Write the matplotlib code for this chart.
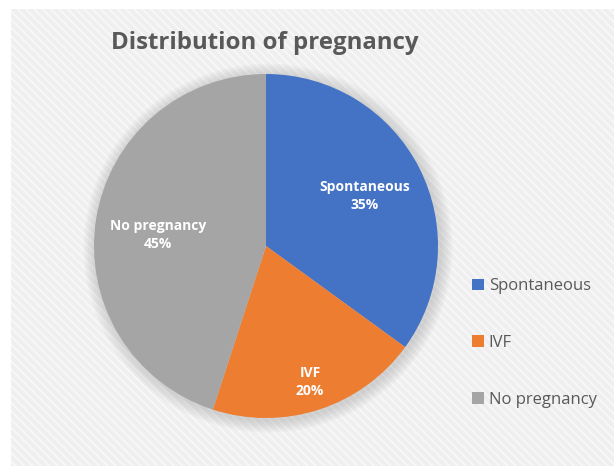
import matplotlib
matplotlib.use("Agg")
import matplotlib.pyplot as plt
from matplotlib.patches import Rectangle, Circle
import numpy as np

categories = ["Spontaneous", "IVF", "No pregnancy"]
shares = [35, 20, 45]
colors = ["#4472C4", "#ED7D31", "#A5A5A5"]
# label placement as (angle in degrees, radius fraction)
label_pos = [(27, 0.645), (-72, 0.83), (174, 0.63)]

plt.rcParams["font.family"] = ["Open Sans", "DejaVu Sans"]
plt.rcParams["hatch.linewidth"] = 1.2

fig = plt.figure(figsize=(6.14, 4.74), dpi=100)
fig.patch.set_facecolor("white")

# chart area background with light diagonal stripes
bg = Rectangle((11 / 614, 8 / 474), 1 - 11 / 614, 1 - 17 / 474,
               transform=fig.transFigure, facecolor="#efefef",
               edgecolor="#f9f9f9", hatch="\\\\\\\\", linewidth=0, zorder=-1)
fig.patches.append(bg)

ax = fig.add_axes([94 / 614, 56 / 474, 344 / 614, 344 / 474], zorder=2)
ax.patch.set_visible(False)

# soft shadow under the pie
for k in range(6):
    ax.add_patch(Circle((0.012, -0.012), 1.0 + 0.012 * (k + 1),
                        facecolor="#808080", alpha=0.05, linewidth=0,
                        zorder=0, clip_on=False))

wedges, _ = ax.pie(shares, colors=colors, startangle=90, counterclock=False,
                   radius=1.0, wedgeprops=dict(linewidth=0, zorder=1))
ax.set_xlim(-1, 1)
ax.set_ylim(-1, 1)
ax.set_aspect("equal")
ax.axis("off")

for name, val, (ang, r) in zip(categories, shares, label_pos):
    t = np.deg2rad(ang)
    ax.text(r * np.cos(t), r * np.sin(t), f"{name}\n{val}%", ha="center",
            va="center", color="white", fontsize=10, fontweight="bold",
            linespacing=1.35, zorder=3)

fig.text(265 / 614, 1 - 43 / 474, "Distribution of pregnancy", ha="center",
         va="center", fontsize=17.3, fontweight="bold", color="#595959")

leg = fig.legend(wedges, categories, loc="center left",
                 bbox_to_anchor=(457 / 614, 1 - 343 / 474), frameon=False,
                 handlelength=0.7, handleheight=0.7, handletextpad=0.3,
                 labelspacing=2.45, fontsize=12, labelcolor="#595959")

fig.savefig("out.png", dpi=100)
